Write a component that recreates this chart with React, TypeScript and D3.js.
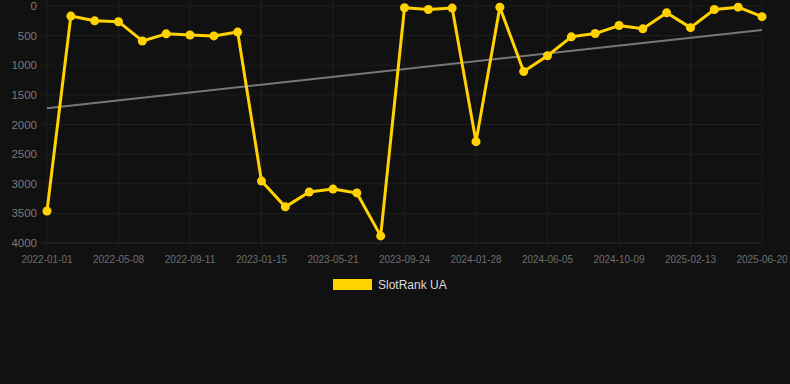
import React from "react";
import * as d3 from "d3";

const dates = [
  "2022-01-01","2022-02-12","2022-03-26","2022-05-08","2022-06-19","2022-07-31","2022-09-11","2022-10-23","2022-12-04","2023-01-15",
  "2023-02-26","2023-04-09","2023-05-21","2023-07-02","2023-08-13","2023-09-24","2023-11-05","2023-12-17","2024-01-28","2024-03-10",
  "2024-04-23","2024-06-05","2024-07-17","2024-08-28","2024-10-09","2024-11-20","2025-01-01","2025-02-13","2025-03-27","2025-05-08","2025-06-20",
];
const rankValues = [
  3460, 170, 250, 265, 590, 470, 490, 505, 440, 2955,
  3390, 3140, 3090, 3155, 3880, 30, 60, 35, 2290, 20,
  1105, 840, 520, 465, 330, 385, 115, 365, 60, 20, 180,
];
const trendStart = 1725;
const trendEnd = 405;
const yTicks = [0, 500, 1000, 1500, 2000, 2500, 3000, 3500, 4000];
const seriesName = "SlotRank UA";

const W = 790, H = 384;
const left = 47, right = 762, top = 6, bottom = 243;

export default function App() {
  const x = d3.scalePoint<string>().domain(dates).range([left, right]);
  const y = d3.scaleLinear().domain([0, 4000]).range([top, bottom]);
  const line = d3.line<number>().x((_, i) => x(dates[i])!).y((d) => y(d));
  const labelDates = dates.filter((_, i) => i % 3 === 0);
  const font = 'Arial, "Liberation Sans", Helvetica, sans-serif';
  return (
    <svg width={W} height={H} style={{ position: "absolute", left: 0, top: 0, background: "#111111" }} fontFamily={font}>
      <rect width={W} height={H} fill="#111111" />
      {yTicks.map((t) => (
        <g key={t}>
          <line x1={42} x2={right} y1={y(t)} y2={y(t)} stroke={t === 4000 ? "#2e2e2e" : "#1f1f1f"} strokeWidth={1} />
          <text x={37} y={y(t)} dy="0.35em" textAnchor="end" fontSize={11.5} fill="#7a7a7a">{t}</text>
        </g>
      ))}
      {labelDates.map((d) => (
        <g key={d}>
          <line x1={x(d)} x2={x(d)} y1={0} y2={bottom + 5} stroke="#1f1f1f" strokeWidth={1} />
          <text x={x(d)} y={263} textAnchor="middle" fontSize={10} fill="#6e6e6e">{d}</text>
        </g>
      ))}
      <line x1={x(dates[0])} x2={x(dates[dates.length - 1])} y1={y(trendStart)} y2={y(trendEnd)} stroke="#777" strokeWidth={2} />
      <path d={line(rankValues)!} fill="none" stroke="#FFD200" strokeWidth={3} strokeLinejoin="round" />
      {rankValues.map((v, i) => (
        <circle key={i} cx={x(dates[i])} cy={y(v)} r={4.5} fill="#FFD200" />
      ))}
      <rect x={333} y={279} width={39} height={11} fill="#FFD200" />
      <text x={378} y={289} fontSize={12} fill="#dddddd">{seriesName}</text>
    </svg>
  );
}
